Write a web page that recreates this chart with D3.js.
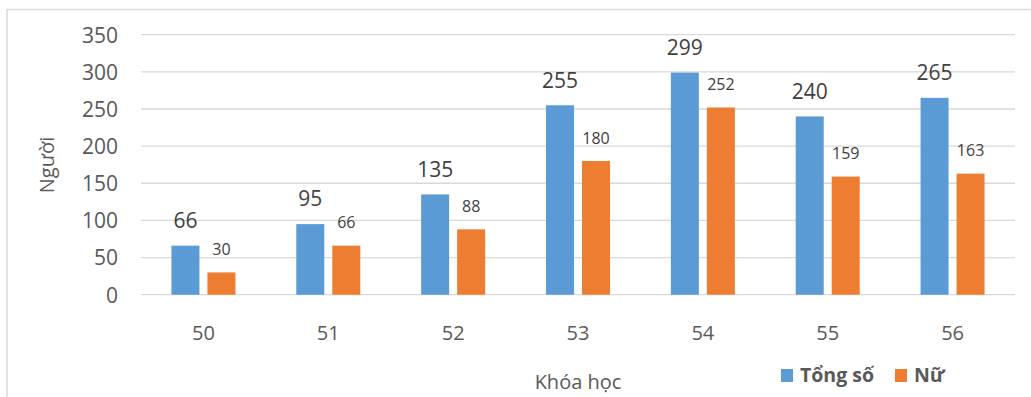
<!DOCTYPE html>
<html><head><meta charset="utf-8">
<script src="https://cdn.jsdelivr.net/npm/d3@7"></script>
<style>html,body{margin:0;padding:0;background:#fff;}svg{display:block;}</style>
</head><body>
<svg id="c" width="1031" height="397"></svg>
<script>
const categories = ["50","51","52","53","54","55","56"];
const seriesNames = ["Tổng số","Nữ"];
const tongSo = [66,95,135,255,299,240,265];
const nu = [30,66,88,180,252,159,163];
const yTicks = [0,50,100,150,200,250,300,350];
const colors = ["#5B9BD5","#ED7D31"];
const FONT = "'Open Sans', sans-serif";

const svg = d3.select("#c");
// frame
svg.append("line").attr("x1",7).attr("x2",1031).attr("y1",9.5).attr("y2",9.5).attr("stroke","#d9d9d9").attr("stroke-width",1.5);
svg.append("line").attr("x1",7).attr("x2",7).attr("y1",9.5).attr("y2",397).attr("stroke","#d9d9d9").attr("stroke-width",1.5);

const x = d3.scaleBand().domain(categories).range([141,1015]).padding(0);
const y = d3.scaleLinear().domain([0,350]).range([294.7,34.7]);

// grid
svg.append("g").selectAll("line").data(yTicks).join("line")
  .attr("x1",141).attr("x2",1015).attr("y1",d=>y(d)).attr("y2",d=>y(d))
  .attr("stroke","#d9d9d9").attr("stroke-width",1.3);

// y axis labels
const yAxis = d3.axisLeft(y).tickValues(yTicks).tickSize(0).tickPadding(0);
const ga = svg.append("g").attr("transform","translate(118,0)").call(yAxis);
ga.select(".domain").remove();
ga.selectAll("text").attr("font-family",FONT).attr("font-size",21).attr("fill","#595959").attr("dy","0.35em");

// x axis labels
const xAxis = d3.axisBottom(x).tickSize(0).tickPadding(0);
const gx = svg.append("g").attr("transform","translate(0,333)").call(xAxis);
gx.select(".domain").remove();
gx.selectAll("text").attr("font-family",FONT).attr("font-size",20).attr("fill","#595959").attr("dy","0.35em");

const data = categories.map((c,i)=>({cat:c, vals:[tongSo[i], nu[i]]}));
const groups = svg.append("g").selectAll("g").data(data).join("g");
groups.each(function(d){
  const cx = x(d.cat)+x.bandwidth()/2;
  const x1 = d3.scaleBand().domain([0,1]).range([cx-32,cx+32]).paddingInner(8/36).paddingOuter(0);
  const g = d3.select(this);
  d.vals.forEach((v,k)=>{
    g.append("rect").attr("x",x1(k)).attr("width",x1.bandwidth())
      .attr("y",y(v)).attr("height",y(0)-y(v)).attr("fill",colors[k]);
    g.append("text").attr("x",x1(k)+x1.bandwidth()/2).attr("y",y(v)-(k===0?25:23))
      .attr("dy","0.35em").attr("text-anchor","middle")
      .attr("font-family",FONT).attr("font-size",k===0?21:16).attr("fill","#404040").text(v);
  });
});

// axis titles
svg.append("text").attr("transform","translate(47,165) rotate(-90)").attr("text-anchor","middle")
  .attr("dy","0.35em").attr("font-family",FONT).attr("font-size",20).attr("fill","#595959").text("Người");
svg.append("text").attr("x",578).attr("y",382).attr("text-anchor","middle").attr("dy","0.35em")
  .attr("font-family",FONT).attr("font-size",20).attr("fill","#595959").text("Khóa học");

// legend
const legendX = [781,895];
seriesNames.forEach((s,k)=>{
  svg.append("rect").attr("x",legendX[k]).attr("y",369).attr("width",12).attr("height",13).attr("fill",colors[k]);
  svg.append("text").attr("x",legendX[k]+19).attr("y",375).attr("dy","0.35em")
    .attr("font-family",FONT).attr("font-size",19.5).attr("font-weight","bold").attr("fill","#595959").text(s);
});
</script>
</body></html>
